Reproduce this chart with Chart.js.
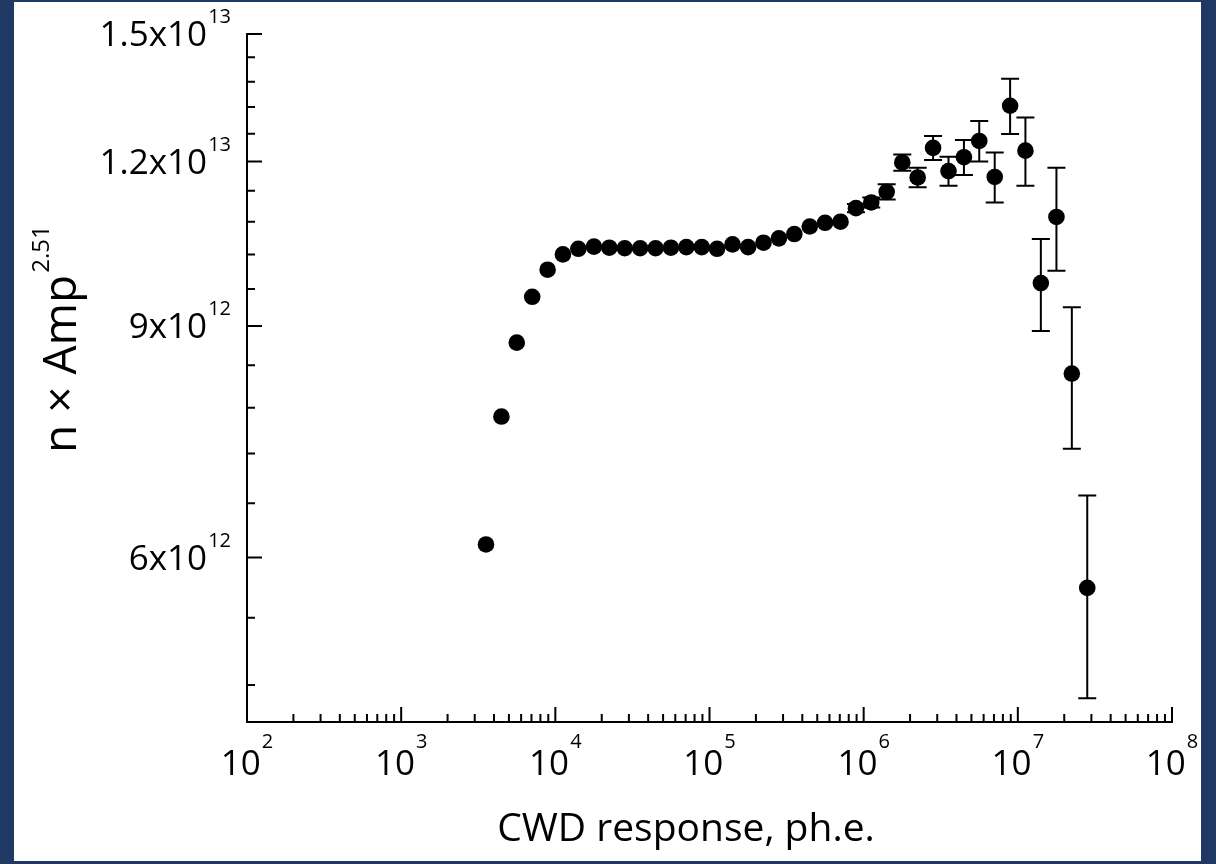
<!DOCTYPE html>
<html>
<head>
<meta charset="utf-8">
<script src="https://cdn.jsdelivr.net/npm/chart.js@4/dist/chart.umd.min.js"></script>
<style>
  html, body { margin: 0; padding: 0; background: #1F3864; }
  #wrap { position: relative; width: 1216px; height: 864px; }
  canvas { display: block; }
</style>
</head>
<body>
<div id="wrap"><canvas id="chart" width="1216" height="864"></canvas></div>
<script>
// ---- Data ----
const responsePhe = [
  3550, 4470, 5620, 7080, 8910,
  11200, 14100, 17800, 22400, 28200,
  35500, 44700, 56200, 70800, 89100,
  112000, 141000, 178000, 224000, 282000,
  355000, 447000, 562000, 708000, 891000,
  1120000, 1410000, 1780000, 2240000, 2820000,
  3550000, 4470000, 5620000, 7080000, 8910000,
  11200000, 14100000, 17800000, 22400000, 28200000
];
const nAmp = [
  6.14e12, 7.68e12, 8.74e12, 9.47e12, 9.93e12,
  10.20e12, 10.30e12, 10.34e12, 10.32e12, 10.31e12,
  10.31e12, 10.31e12, 10.32e12, 10.33e12, 10.33e12,
  10.30e12, 10.38e12, 10.33e12, 10.41e12, 10.49e12,
  10.57e12, 10.71e12, 10.78e12, 10.80e12, 11.06e12,
  11.17e12, 11.38e12, 11.98e12, 11.67e12, 12.29e12,
  11.80e12, 12.09e12, 12.44e12, 11.68e12, 13.23e12,
  12.23e12, 9.70e12, 10.89e12, 8.28e12, 5.69e12
];
const nAmpErr = [
  0, 0, 0, 0, 0,
  0, 0, 0, 0, 0,
  0, 0, 0, 0, 0,
  0, 0, 0, 0, 0,
  0, 0, 0, 0, 0.08e12,
  0.10e12, 0.15e12, 0.17e12, 0.20e12, 0.26e12,
  0.30e12, 0.37e12, 0.44e12, 0.51e12, 0.64e12,
  0.73e12, 0.78e12, 0.98e12, 1.02e12, 1.00e12
];

// ---- Axis ticks and labels ----
const xTickValues = [1e2, 1e3, 1e4, 1e5, 1e6, 1e7, 1e8];
const xTickBase = '10';
const xTickExponents = ['2', '3', '4', '5', '6', '7', '8'];
const xMinorMultipliers = [2, 3, 4, 5, 6, 7, 8, 9];
const yTickValues = [6e12, 9e12, 1.2e13, 1.5e13];
const yTickMantissas = ['6', '9', '1.2', '1.5'];
const yTickExponents = ['12', '12', '13', '13'];
const yMinorTickValues = [4.8e12, 5.4e12, 6.6e12, 7.2e12, 7.8e12, 8.4e12, 9.6e12, 10.2e12, 10.8e12, 11.4e12, 12.6e12, 13.2e12, 13.8e12, 14.4e12];
const xTitle = 'CWD response, ph.e.';
const yTitle = 'n \u00d7 Amp';
const yTitleExponent = '2.51';

const FONT = '"Open Sans", "Noto Sans", sans-serif';
const FRAME = '#1F3864';

const points = responsePhe.map((x, i) => ({ x: x, y: nAmp[i] }));

const framePlugin = {
  id: 'frame',
  beforeDraw(chart) {
    const ctx = chart.ctx;
    ctx.save();
    ctx.fillStyle = FRAME;
    ctx.fillRect(0, 0, chart.width, chart.height);
    ctx.fillStyle = '#ffffff';
    ctx.fillRect(14, 2, chart.width - 29, chart.height - 5);
    ctx.restore();
  }
};

const axesPlugin = {
  id: 'axesAndErrors',
  beforeDatasetsDraw(chart) {
    const ctx = chart.ctx;
    const xs = chart.scales.x, ys = chart.scales.y;
    const L = xs.getPixelForValue(xTickValues[0]);
    const R = xs.getPixelForValue(xTickValues[xTickValues.length - 1]);
    const T = ys.getPixelForValue(ys.max);
    const B = ys.getPixelForValue(ys.min);
    ctx.save();
    ctx.strokeStyle = '#000';
    ctx.fillStyle = '#000';
    ctx.lineWidth = 2;
    ctx.lineCap = 'butt';
    // axis lines
    ctx.beginPath();
    ctx.moveTo(L, T - 1);
    ctx.lineTo(L, B);
    ctx.lineTo(R + 1, B);
    ctx.stroke();
    // y ticks
    ctx.beginPath();
    yTickValues.forEach(v => { const p = ys.getPixelForValue(v); ctx.moveTo(L, p); ctx.lineTo(L + 15, p); });
    yMinorTickValues.forEach(v => { const p = ys.getPixelForValue(v); ctx.moveTo(L, p); ctx.lineTo(L + 8, p); });
    // x ticks
    xTickValues.forEach((v, k) => {
      const p = xs.getPixelForValue(v);
      ctx.moveTo(p, B); ctx.lineTo(p, B - 15);
      if (k < xTickValues.length - 1) {
        xMinorMultipliers.forEach(m => { const q = xs.getPixelForValue(v * m); ctx.moveTo(q, B); ctx.lineTo(q, B - 8); });
      }
    });
    ctx.stroke();

    // y tick labels
    yTickValues.forEach((v, k) => {
      const p = ys.getPixelForValue(v);
      ctx.font = '20px ' + FONT;
      const ws = ctx.measureText(yTickExponents[k]).width;
      const supLeft = L - 16 - ws;
      ctx.textAlign = 'left';
      ctx.textBaseline = 'alphabetic';
      ctx.fillText(yTickExponents[k], supLeft, p - 11);
      ctx.font = '35px ' + FONT;
      ctx.textAlign = 'right';
      ctx.fillText(yTickMantissas[k] + 'x10', supLeft - 1, p + 12);
    });
    // x tick labels
    xTickValues.forEach((v, k) => {
      const p = xs.getPixelForValue(v);
      ctx.font = '35px ' + FONT;
      const wb = ctx.measureText(xTickBase).width;
      ctx.font = '20px ' + FONT;
      const ws = ctx.measureText(xTickExponents[k]).width;
      const total = wb + 1 + ws;
      const left = p - total / 2;
      ctx.textAlign = 'left';
      ctx.textBaseline = 'alphabetic';
      ctx.font = '35px ' + FONT;
      ctx.fillText(xTickBase, left, B + 53);
      ctx.font = '20px ' + FONT;
      ctx.fillText(xTickExponents[k], left + wb + 1, B + 26);
    });
    // x title
    ctx.font = '39px ' + FONT;
    ctx.textAlign = 'center';
    ctx.fillText(xTitle, 686, 841);
    // y title (rotated)
    ctx.save();
    ctx.translate(76, 453);
    ctx.rotate(-Math.PI / 2);
    ctx.font = '46px ' + FONT;
    ctx.textAlign = 'left';
    const wt = ctx.measureText(yTitle).width;
    ctx.fillText(yTitle, 0, 0);
    ctx.font = '24px ' + FONT;
    ctx.fillText(yTitleExponent, wt + 2, -27);
    ctx.restore();

    // error bars
    ctx.beginPath();
    responsePhe.forEach((xv, i) => {
      if (!nAmpErr[i]) return;
      const px = xs.getPixelForValue(xv);
      const top = ys.getPixelForValue(nAmp[i] + nAmpErr[i]);
      const bot = ys.getPixelForValue(nAmp[i] - nAmpErr[i]);
      ctx.moveTo(px, top); ctx.lineTo(px, bot);
      ctx.moveTo(px - 9, top); ctx.lineTo(px + 9, top);
      ctx.moveTo(px - 9, bot); ctx.lineTo(px + 9, bot);
    });
    ctx.stroke();
    ctx.restore();
  }
};

new Chart(document.getElementById('chart'), {
  type: 'scatter',
  data: {
    datasets: [{
      data: points,
      backgroundColor: '#000',
      borderColor: '#000',
      pointRadius: 8.3,
      pointHoverRadius: 8.3,
      pointBorderWidth: 0,
      showLine: false
    }]
  },
  options: {
    responsive: false,
    devicePixelRatio: 1,
    animation: false,
    events: [],
    layout: { padding: { top: 34, right: 44, left: 0, bottom: 0 } },
    plugins: { legend: { display: false }, tooltip: { enabled: false } },
    scales: {
      x: {
        type: 'logarithmic', min: 1e2, max: 1e8,
        grid: { display: false }, border: { display: false },
        ticks: { display: false },
        afterFit: s => { s.height = 142; }
      },
      y: {
        type: 'logarithmic', min: 4.5e12, max: 1.5e13,
        grid: { display: false }, border: { display: false },
        ticks: { display: false },
        afterFit: s => { s.width = 247; }
      }
    }
  },
  plugins: [framePlugin, axesPlugin]
});
</script>
</body>
</html>
